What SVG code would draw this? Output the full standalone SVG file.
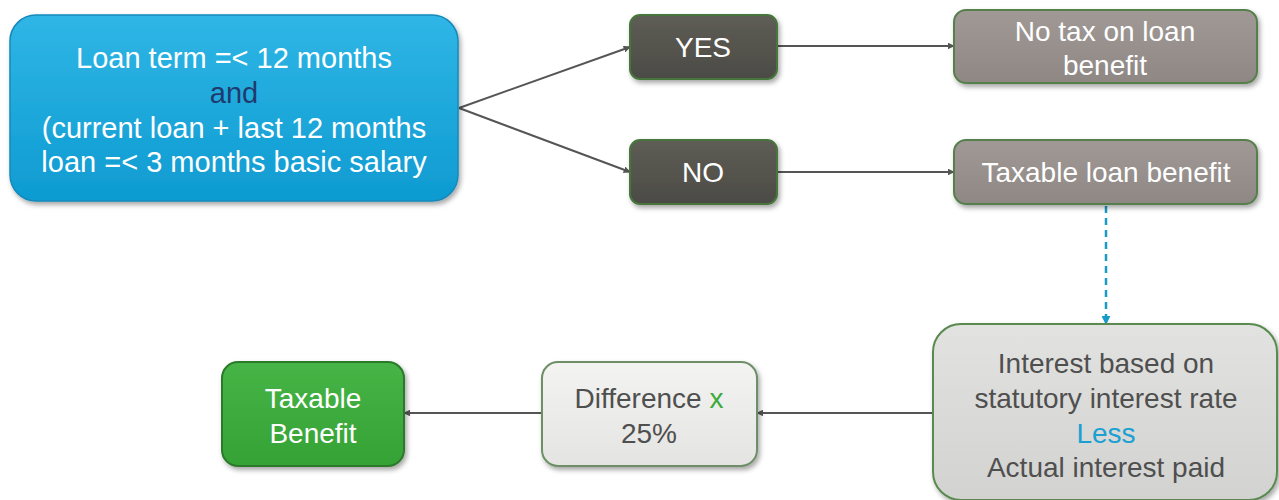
<svg xmlns="http://www.w3.org/2000/svg" width="1279" height="500" viewBox="0 0 1279 500">
<defs>
<filter id="sh" x="-10%" y="-10%" width="125%" height="130%">
<feDropShadow dx="2" dy="3" stdDeviation="2.5" flood-color="#000" flood-opacity="0.35"/>
</filter>
<linearGradient id="gBlue" x1="0" y1="0" x2="0" y2="1">
<stop offset="0" stop-color="#2fb6e6"/><stop offset="1" stop-color="#0e9bd1"/>
</linearGradient>
<linearGradient id="gDark" x1="0" y1="0" x2="0" y2="1">
<stop offset="0" stop-color="#5e5d56"/><stop offset="1" stop-color="#4c4b45"/>
</linearGradient>
<linearGradient id="gGray" x1="0" y1="0" x2="0" y2="1">
<stop offset="0" stop-color="#a09996"/><stop offset="1" stop-color="#8e8784"/>
</linearGradient>
<linearGradient id="gLight" x1="0" y1="0" x2="0" y2="1">
<stop offset="0" stop-color="#e2e2e0"/><stop offset="1" stop-color="#d2d2d0"/>
</linearGradient>
<linearGradient id="gWhite" x1="0" y1="0" x2="0" y2="1">
<stop offset="0" stop-color="#f3f3f1"/><stop offset="1" stop-color="#e4e4e2"/>
</linearGradient>
<linearGradient id="gGreen" x1="0" y1="0" x2="0" y2="1">
<stop offset="0" stop-color="#46b446"/><stop offset="1" stop-color="#35a235"/>
</linearGradient>
<marker id="arr" viewBox="0 0 10 10" refX="9" refY="5" markerWidth="7" markerHeight="7" markerUnits="userSpaceOnUse" orient="auto">
<path d="M0,0 L10,5 L0,10 z" fill="#555"/>
</marker>
<marker id="arrB" viewBox="0 0 10 10" refX="9" refY="5" markerWidth="9" markerHeight="9" markerUnits="userSpaceOnUse" orient="auto">
<path d="M0,0 L10,5 L0,10 z" fill="#1a9ac8"/>
</marker>
</defs>
<style>
text { font-family: "Liberation Sans", Arial, sans-serif; font-size: 28px; text-anchor: middle; }
.big { font-size: 29px; }
.w { fill: #ffffff; }
.d { fill: #4f4f4f; }
.conn { stroke: #555; stroke-width: 2; fill: none; marker-end: url(#arr); }
</style>
<rect width="1279" height="500" fill="#ffffff"/>

<g id="connectors">
<line class="conn" x1="459" y1="108" x2="630" y2="47"/>
<line class="conn" x1="459" y1="108" x2="630" y2="172"/>
<line class="conn" x1="777" y1="46" x2="954" y2="46"/>
<line class="conn" x1="777" y1="172" x2="954" y2="172"/>
<line x1="1106" y1="206" x2="1106" y2="324" stroke="#1a9ac8" stroke-width="2.5" stroke-dasharray="7,5" marker-end="url(#arrB)"/>
<line class="conn" x1="932" y1="413" x2="757" y2="413"/>
<line class="conn" x1="542" y1="413" x2="404" y2="413"/>
</g>

<g id="node-condition">
<rect x="10" y="15" width="448" height="186" rx="26" fill="url(#gBlue)" stroke="#1689ba" stroke-width="1.5" filter="url(#sh)"/>
<text class="w big" x="234" y="68">Loan term =&lt; 12 months</text>
<text class="big" x="234" y="103" fill="#1f3a6e">and</text>
<text class="w big" x="234" y="138">(current loan + last 12 months</text>
<text class="w big" x="234" y="172">loan =&lt; 3 months basic salary</text>
</g>

<g id="node-yes">
<rect x="630" y="15" width="147" height="64" rx="10" fill="url(#gDark)" stroke="#46763c" stroke-width="2" filter="url(#sh)"/>
<text class="w" x="703" y="57">YES</text>
</g>

<g id="node-no">
<rect x="630" y="140" width="147" height="64" rx="10" fill="url(#gDark)" stroke="#46763c" stroke-width="2" filter="url(#sh)"/>
<text class="w" x="703" y="182">NO</text>
</g>

<g id="node-notax">
<rect x="954" y="10" width="303" height="73" rx="12" fill="url(#gGray)" stroke="#56804c" stroke-width="2" filter="url(#sh)"/>
<text class="w" x="1105" y="41">No tax on loan</text>
<text class="w" x="1105" y="75">benefit</text>
</g>

<g id="node-taxable-loan">
<rect x="954" y="140" width="303" height="64" rx="12" fill="url(#gGray)" stroke="#56804c" stroke-width="2" filter="url(#sh)"/>
<text class="w" x="1106" y="182">Taxable loan benefit</text>
</g>

<g id="node-interest">
<rect x="933" y="324" width="344" height="176" rx="28" fill="url(#gLight)" stroke="#5a8a50" stroke-width="2" filter="url(#sh)"/>
<text class="d" x="1106" y="373">Interest based on</text>
<text class="d" x="1106" y="408">statutory interest rate</text>
<text x="1106" y="443" fill="#1aa0d2">Less</text>
<text class="d" x="1106" y="477">Actual interest paid</text>
</g>

<g id="node-difference">
<rect x="542" y="362" width="215" height="104" rx="16" fill="url(#gWhite)" stroke="#6e8e68" stroke-width="2" filter="url(#sh)"/>
<text class="d" x="649" y="408">Difference <tspan fill="#3aaa3a">x</tspan></text>
<text class="d" x="649" y="443">25%</text>
</g>

<g id="node-taxable-benefit">
<rect x="222" y="362" width="182" height="104" rx="16" fill="url(#gGreen)" stroke="#2c7a2c" stroke-width="2" filter="url(#sh)"/>
<text class="w" x="313" y="408">Taxable</text>
<text class="w" x="313" y="443">Benefit</text>
</g>
</svg>
